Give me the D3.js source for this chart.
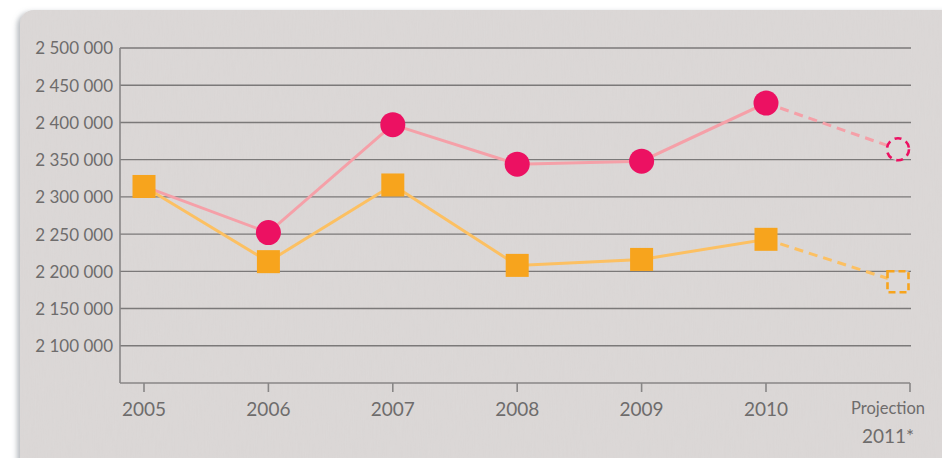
<!DOCTYPE html>
<html>
<head>
<meta charset="utf-8">
<script src="https://cdn.jsdelivr.net/npm/d3@7"></script>
<style>
body{margin:0;background:#fff;}
svg{display:block;}
.tick text{font-family:Lato,"Open Sans",sans-serif;fill:#6e6c6c;}
</style>
</head>
<body>
<svg id="chart" width="942" height="458"></svg>
<script>
// data
var years = ["2005","2006","2007","2008","2009","2010"];
var projLabel = ["Projection","2011*"];
var pinkVals = [2314000,2252000,2397000,2344000,2348000,2426000];
var pinkProj = 2364000;
var orangeVals = [2314000,2213000,2316000,2208000,2216000,2243000];
var orangeProj = 2186000;
var yTicks = [2100000,2150000,2200000,2250000,2300000,2350000,2400000,2450000,2500000];

var svg = d3.select("#chart");
var margins = {left:120, top:48, right:32, bottom:75};
var width = 942 - margins.left - margins.right;
var height = 458 - margins.top - margins.bottom;

// card
var defs = svg.append("defs");
var f = defs.append("filter").attr("id","sh").attr("x","-5%").attr("y","-5%").attr("width","110%").attr("height","110%");
f.append("feDropShadow").attr("dx",-3).attr("dy",2).attr("stdDeviation",2.5).attr("flood-color","#8a9098").attr("flood-opacity",0.6);
var tex = defs.append("filter").attr("id","tex");
tex.append("feTurbulence").attr("type","fractalNoise").attr("baseFrequency","0.9 0.05").attr("numOctaves",2).attr("seed",3);
tex.append("feColorMatrix").attr("values","0 0 0 0 0.5  0 0 0 0 0.5  0 0 0 0 0.5  0 0 0 0.08 0");
tex.append("feComposite").attr("in2","SourceGraphic").attr("operator","in");

svg.append("rect").attr("x",20).attr("y",10).attr("width",960).attr("height",470)
  .attr("rx",14).attr("fill","#dcd8d7").attr("filter","url(#sh)");
svg.append("rect").attr("x",20).attr("y",10).attr("width",960).attr("height",470)
  .attr("rx",14).attr("fill","#dcd8d7").attr("filter","url(#tex)");

var g = svg.append("g").attr("transform","translate("+margins.left+","+margins.top+")");

var yScale = d3.scaleLinear().domain([2050000,2500000]).range([height,0]);
// historical years evenly spaced, projection sits at the axis end
var xScale = d3.scaleLinear().domain([2005,2010]).range([24,646]);
var xProj = width;

var fmt = function(d){ return d3.format(",")(d).replace(/,/g," "); };

// gridlines
g.append("g").selectAll("line").data(yTicks).enter().append("line")
  .attr("x1",0).attr("x2",width+1)
  .attr("y1",function(d){return yScale(d);}).attr("y2",function(d){return yScale(d);})
  .attr("stroke","#7b7979").attr("stroke-width",1.4);

var yAxis = d3.axisLeft(yScale).tickValues(yTicks).tickSize(0).tickPadding(7).tickFormat(fmt);
var ya = g.append("g").call(yAxis);
ya.select(".domain").remove();
ya.selectAll("text").attr("font-size",17).attr("dy","0.35em");

// axis lines
g.append("line").attr("x1",0).attr("x2",0).attr("y1",0).attr("y2",height)
  .attr("stroke","#888686").attr("stroke-width",1.6);
g.append("line").attr("x1",0).attr("x2",xProj).attr("y1",height).attr("y2",height)
  .attr("stroke","#888686").attr("stroke-width",1.6);

var xVals = years.map(Number);
var xa = g.append("g").attr("transform","translate(0,"+height+")");
xa.selectAll("line").data(xVals.map(xScale).concat([xProj])).enter().append("line")
  .attr("x1",function(d){return d;}).attr("x2",function(d){return d;})
  .attr("y1",0).attr("y2",9).attr("stroke","#888686").attr("stroke-width",1.6);
xa.selectAll("text.yr").data(years).enter().append("text")
  .attr("x",function(d){return xScale(+d);}).attr("y",33)
  .attr("text-anchor","middle").attr("font-size",19)
  .attr("font-family","Lato,'Open Sans',sans-serif").attr("fill","#6e6c6c")
  .text(function(d){return d;});
xa.selectAll("text.pj").data(projLabel).enter().append("text")
  .attr("x",xProj-22).attr("y",function(d,i){return 31+i*29;})
  .attr("text-anchor","middle").attr("font-size",function(d,i){return i?19:16.5;})
  .attr("font-family","Lato,'Open Sans',sans-serif").attr("fill","#6e6c6c")
  .text(function(d){return d;});

function series(vals, proj, lineCol, markCol, shape){
  var pts = vals.map(function(v,i){return [xScale(xVals[i]), yScale(v)];});
  var last = pts[pts.length-1];
  var pp = [xProj-12, yScale(proj)];
  g.append("path").attr("d",d3.line()(pts)).attr("fill","none")
    .attr("stroke",lineCol).attr("stroke-width",3);
  g.append("path").attr("d",d3.line()([last,pp])).attr("fill","none")
    .attr("stroke",lineCol).attr("stroke-width",3).attr("stroke-dasharray","9,6");
  if(shape=="circle"){
    g.append("g").selectAll("circle").data(pts.slice(1)).enter().append("circle")
      .attr("cx",function(d){return d[0];}).attr("cy",function(d){return d[1];})
      .attr("r",12.5).attr("fill",markCol);
    g.append("circle").attr("cx",pp[0]).attr("cy",pp[1]).attr("r",11)
      .attr("fill","#dcd8d7").attr("stroke",markCol).attr("stroke-width",2.6).attr("stroke-dasharray","7,5");
  } else {
    g.append("g").selectAll("rect").data(pts).enter().append("rect")
      .attr("x",function(d){return d[0]-11.5;}).attr("y",function(d){return d[1]-11.5;})
      .attr("width",23).attr("height",23).attr("fill",markCol);
    g.append("rect").attr("x",pp[0]-10.5).attr("y",pp[1]-10.5).attr("width",21).attr("height",21)
      .attr("fill","#dcd8d7").attr("stroke",markCol).attr("stroke-width",2.6).attr("stroke-dasharray","7,4");
  }
}
series(pinkVals, pinkProj, "#f5a0a8", "#ec1162", "circle");
series(orangeVals, orangeProj, "#fcc062", "#f7a41d", "square");
</script>
</body>
</html>
